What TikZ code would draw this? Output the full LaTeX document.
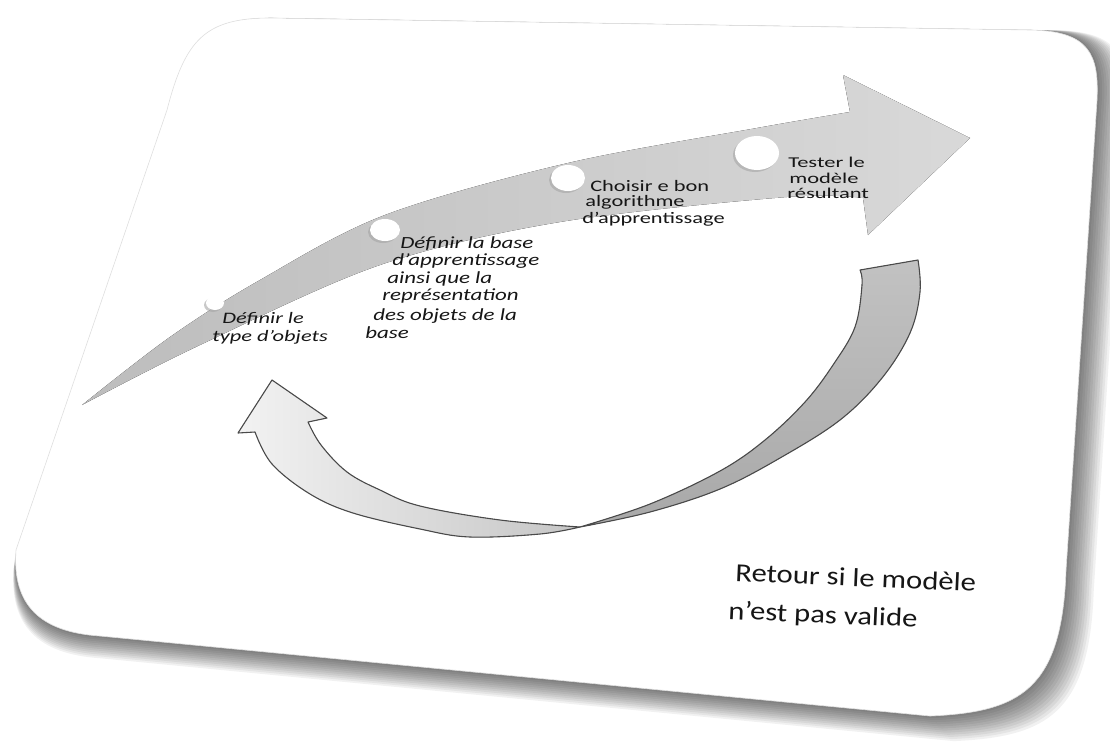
\documentclass[tikz,border=0pt]{standalone}
\usepackage{fontspec}
\setmainfont{Carlito}
\definecolor{ink}{HTML}{161616}
\definecolor{ribbonline}{HTML}{4A4A4A}
\tikzset{
  lbl/.style={anchor=base west, inner sep=0pt, text=ink},
  stepA/.style={lbl, font=\itshape\fontsize{16}{18}\selectfont, xscale=1.4},
  stepB/.style={lbl, font=\itshape\fontsize{17}{18}\selectfont, xscale=1.35},
  stepC/.style={lbl, font=\fontsize{16}{16}\selectfont, xscale=1.4},
  stepD/.style={lbl, font=\fontsize{15}{15}\selectfont, xscale=1.5},
  backnote/.style={lbl, font=\fontsize{26}{30}\selectfont, rotate=-2.5, xscale=1.18},
  ribbon/.style={draw=ribbonline, line width=1.1pt, line join=round}
}
\begin{document}
\begin{tikzpicture}[x=1pt,y=1pt]
\useasboundingbox (0,0) rectangle (1110,-744);

% outline of the tilted card
\def\cardoutline{(270,-18) -- (1030,-30) .. controls (1090,-31) and (1099,-55) .. (1097,-100)
  -- (1066,-570) .. controls (1062,-690) and (1020,-712) .. (930,-716)
  -- (100,-636) .. controls (40,-632) and (12,-605) .. (16,-550)
  -- (167,-110) .. controls (185,-40) and (205,-18) .. (270,-18) -- cycle}

% soft shadow, growing towards the lower right
\foreach \k [evaluate=\k as \fx using 1+0.0024*\k, evaluate=\k as \fy using 1+0.003*\k] in {1,...,12}{
  \fill[black, opacity=0.055, shift={(100,-20)}, xscale=\fx, yscale=\fy, shift={(-100,20)}] \cardoutline;
}
\fill[white] \cardoutline;
\draw[gray!25, line width=0.6pt] \cardoutline;

% main curved arrow
\fill[left color=gray!52, right color=gray!30]
  plot[smooth, tension=0.55] coordinates {(82,-405) (170,-337) (260,-280) (385,-215) (568,-163) (757,-128) (850,-112)}
  -- (843,-75) -- (970,-138) -- (868,-235)
  -- plot[smooth, tension=0.55] coordinates {(863,-198) (787,-197) (560,-222) (380,-265) (200,-345) (82,-405)}
  -- cycle;

% step markers on the arrow
\foreach \cx/\cy/\rx/\ry in {215/303/9/7, 385/230/15/11, 568/178/17/13, 757/153/22/17}{
  \fill[gray!70, opacity=0.6] (\cx-2,-\cy-2) ellipse [x radius=\rx, y radius=\ry];
  \fill[white] (\cx,-\cy) ellipse [x radius=\rx, y radius=\ry];
}

% return ribbon, right (darker) half
\filldraw[ribbon, top color=gray!48, bottom color=gray!68]
  plot[smooth, tension=0.6] coordinates {(918,-260) (920,-292) (910,-333) (882,-378) (840,-420) (780,-458) (720,-489) (650,-512) (580,-527)}
  -- plot[smooth, tension=0.6] coordinates {(580,-527) (650,-504) (720,-471) (765,-440) (805,-402) (833,-365) (855,-327) (862,-285) (860,-270)}
  -- cycle;

% return ribbon, left (lighter) half with its head
\filldraw[ribbon, left color=gray!10, right color=gray!45]
  plot[smooth, tension=0.6] coordinates {(580,-527) (540,-534) (470,-537) (420,-529) (353,-513) (310,-494) (272,-464) (255,-432)}
  -- (238,-433) -- (272,-380) -- (327,-418)
  -- plot[smooth, tension=0.6] coordinates {(308,-422) (321,-445) (347,-472) (380,-490) (420,-506) (500,-520) (580,-527)}
  -- cycle;

% step labels
\node[stepA] (a1) at (222,-323) {Définir le};
\node[stepA] (a2) at (212,-341) {type d’objets};

\node[stepB] (b1) at (400,-248) {Définir la base};
\node[stepB] (b2) at (392,-265) {d’apprentissage};
\node[stepB] (b3) at (387,-283) {ainsi que la};
\node[stepB] (b4) at (382,-300) {représentation};
\node[stepB] (b5) at (373,-320) {des objets de la};
\node[stepB] (b6) at (365,-338) {base};

\node[stepC] (c1) at (590,-191) {Choisir e bon};
\node[stepC] (c2) at (585,-206) {algorithme};
\node[stepC] (c3) at (582,-223) {d’apprentissage};

\node[stepD] (d1) at (788,-167) {Tester le};
\node[stepD] (d2) at (789,-183) {modèle};
\node[stepD] (d3) at (787,-198) {résultant};

\node[backnote] (r1) at (735,-581) {Retour si le modèle};
\node[backnote] (r2) at (728,-619) {n’est pas valide};
\end{tikzpicture}
\end{document}
